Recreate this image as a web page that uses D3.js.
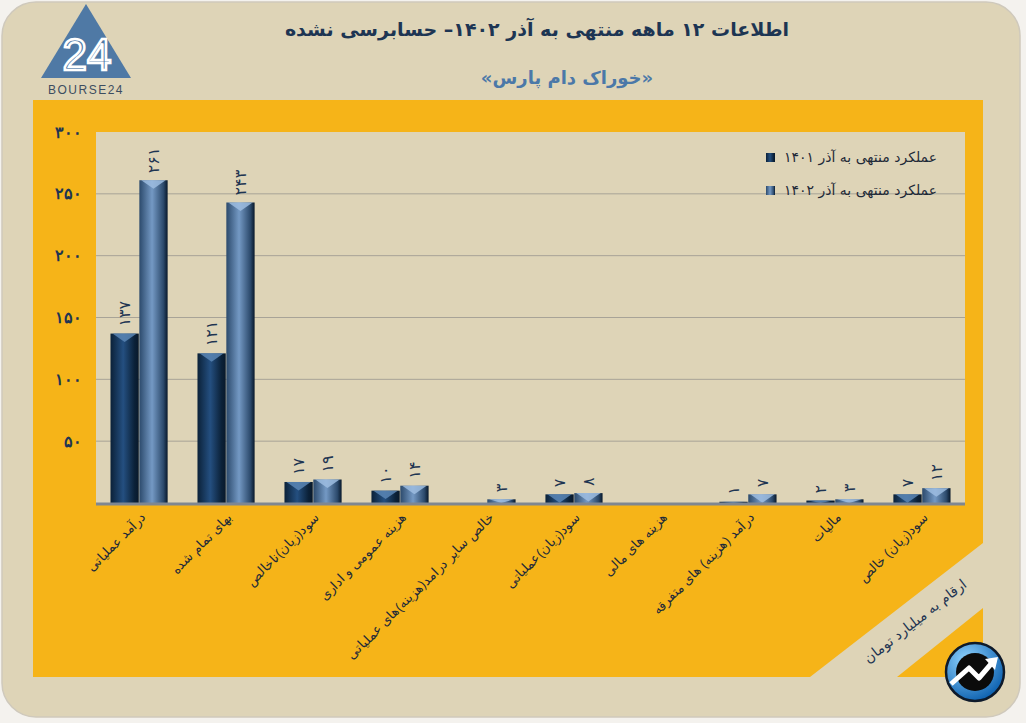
<!DOCTYPE html>
<html>
<head>
<meta charset="utf-8">
<script src="https://cdn.jsdelivr.net/npm/d3@7"></script>
<style>
  body { margin: 0; background: #f4f2ee; }
  svg { display: block; font-family: "DejaVu Sans", sans-serif; }
</style>
</head>
<body>
<svg id="canvas" width="1026" height="723"></svg>
<script>
const categories = [
  "درآمد عملیاتی",
  "بهای تمام شده",
  "سود(زیان)ناخالص",
  "هزینه عمومی و اداری",
  "خالص سایر درامد(هزینه)های عملیاتی",
  "سود(زیان)عملیاتی",
  "هزینه های مالی",
  "درآمد (هزینه) های متفرقه",
  "مالیات",
  "سود(زیان) خالص"
];
const series = ["1401", "1402"];
const seriesNames = ["عملکرد منتهی به آذر ۱۴۰۱", "عملکرد منتهی به آذر ۱۴۰۲"];
const values1401 = [137, 121, 17, 10, null, 7, null, 1, 2, 7];
const values1402 = [261, 243, 19, 14, 3, 8, null, 7, 3, 12];
const yTicks = [50, 100, 150, 200, 250, 300];

const title = "اطلاعات ۱۲ ماهه منتهی به آذر ۱۴۰۲– حسابرسی نشده";
const subtitle = "«خوراک دام پارس»";
const unitNote = "ارقام به میلیارد تومان";

const fa = (n) => String(n).replace(/\d/g, (d) => "۰۱۲۳۴۵۶۷۸۹"[d]);

const data = categories.map((c, i) => ({
  cat: c,
  vals: [
    { key: "1401", v: values1401[i] },
    { key: "1402", v: values1402[i] },
  ],
}));

const svg = d3.select("#canvas");
const W = 1026, H = 723;
const plot = { left: 96, right: 965, top: 132, bottom: 503 };

// gradients
const defs = svg.append("defs");
const grads = [
  { id: "g1401", edge: "#0b2138", mid: "#244f80", bevel: "#5a86b5" },
  { id: "g1402", edge: "#2c4a6c", mid: "#7499c4", bevel: "#9dbde0" },
];
grads.forEach((g) => {
  const lg = defs.append("linearGradient").attr("id", g.id)
    .attr("x1", "0%").attr("x2", "100%").attr("y1", "0%").attr("y2", "0%");
  lg.append("stop").attr("offset", "0%").attr("stop-color", g.edge);
  lg.append("stop").attr("offset", "45%").attr("stop-color", g.mid);
  lg.append("stop").attr("offset", "85%").attr("stop-color", g.edge);
  lg.append("stop").attr("offset", "100%").attr("stop-color", "#08182a");
});
const cg = defs.append("radialGradient").attr("id", "circ").attr("cx", "35%").attr("cy", "30%").attr("r", "75%");
cg.append("stop").attr("offset", "0%").attr("stop-color", "#8fd3ff");
cg.append("stop").attr("offset", "100%").attr("stop-color", "#0b5fae");

// frame
svg.append("rect").attr("x", 2).attr("y", 2).attr("width", W - 8).attr("height", H - 8)
  .attr("rx", 34).attr("fill", "#ded4b7").attr("stroke", "#cfc9bc").attr("stroke-width", 1.5);

// orange panel with cut corner
svg.append("path")
  .attr("d", "M33,100 L983,100 L983,543 L810,677 L33,677 Z")
  .attr("fill", "#f6b418");
svg.append("path")
  .attr("d", "M983,608 L983,677 L897,677 Z")
  .attr("fill", "#f6b418");

// plot background
svg.append("rect")
  .attr("x", plot.left).attr("y", plot.top)
  .attr("width", plot.right - plot.left).attr("height", plot.bottom - plot.top)
  .attr("fill", "#ded4b7");

const x0 = d3.scaleBand().domain(categories)
  .range([plot.left, plot.right]).paddingInner(0.33).paddingOuter(0.16);
const x1 = d3.scaleBand().domain(series).range([0, x0.bandwidth()]).padding(0.02);
const y = d3.scaleLinear().domain([0, 300]).range([plot.bottom, plot.top]);

// grid
svg.append("g")
  .selectAll("line").data(yTicks.filter((t) => t < 300)).enter().append("line")
  .attr("x1", plot.left).attr("x2", plot.right)
  .attr("y1", (d) => y(d)).attr("y2", (d) => y(d))
  .attr("stroke", "#a8a397").attr("stroke-width", 1);

// y axis
const yAxis = d3.axisLeft(y).tickValues(yTicks).tickFormat(fa).tickSize(0).tickPadding(0);
const yg = svg.append("g").attr("transform", `translate(${plot.left - 14},0)`).call(yAxis);
yg.select(".domain").remove();
yg.selectAll("text")
  .attr("fill", "#1e3552").attr("font-size", 16).attr("font-weight", "bold");

// bars
const groups = svg.append("g").selectAll("g").data(data).enter().append("g")
  .attr("transform", (d) => `translate(${x0(d.cat)},0)`);

const bars = groups.selectAll("g.bar")
  .data((d) => d.vals.filter((v) => v.v !== null)).enter().append("g").attr("class", "bar");

bars.append("rect")
  .attr("x", (d) => x1(d.key))
  .attr("y", (d) => y(d.v))
  .attr("width", x1.bandwidth())
  .attr("height", (d) => y(0) - y(d.v))
  .attr("fill", (d) => `url(#g${d.key})`);

bars.append("path")
  .attr("d", (d) => {
    const bx = x1(d.key), bw = x1.bandwidth(), by = y(d.v);
    const h = Math.min(bw * 0.3, y(0) - by);
    return `M${bx + 2},${by} L${bx + bw - 2},${by} L${bx + bw / 2},${by + h} Z`;
  })
  .attr("fill", (d) => (d.key === "1401" ? grads[0].bevel : grads[1].bevel))
  .attr("opacity", 0.85);

bars.append("text")
  .attr("transform", (d) => `translate(${x1(d.key) + x1.bandwidth() / 2},${y(d.v) - 7}) rotate(-90)`)
  .attr("dy", "0.35em")
  .attr("text-anchor", "start")
  .attr("font-size", 16)
  .attr("fill", "#1e3552")
  .text((d) => fa(d.v));

// baseline
svg.append("line")
  .attr("x1", plot.left).attr("x2", plot.right)
  .attr("y1", plot.bottom + 1).attr("y2", plot.bottom + 1)
  .attr("stroke", "#7f8791").attr("stroke-width", 3);

// x labels
const xAxis = d3.axisBottom(x0).tickSize(0).tickPadding(0);
const xg = svg.append("g").attr("transform", `translate(0,${plot.bottom})`).call(xAxis);
xg.select(".domain").remove();
xg.selectAll("text")
  .attr("text-anchor", "end")
  .attr("font-size", 13)
  .attr("fill", "#1e2a38")
  .attr("dy", "0.35em")
  .attr("transform", "translate(4,12) rotate(-45)");

// legend
const legend = svg.append("g").selectAll("g").data(seriesNames).enter().append("g")
  .attr("transform", (d, i) => `translate(766,${157 + i * 33})`);
legend.append("rect").attr("x", 0).attr("y", -4).attr("width", 9).attr("height", 9)
  .attr("fill", (d, i) => `url(#g${series[i]})`);
legend.append("text").attr("x", 171).attr("y", 0).attr("dy", "0.35em")
  .attr("text-anchor", "end").attr("font-size", 14).attr("fill", "#1e2a38")
  .text((d) => d);

// titles
svg.append("text").attr("x", 537).attr("y", 36).attr("text-anchor", "middle")
  .attr("font-size", 19).attr("font-weight", "bold").attr("fill", "#1d3553").text(title);
svg.append("text").attr("x", 567).attr("y", 84).attr("text-anchor", "middle")
  .attr("font-size", 18).attr("font-weight", "bold").attr("fill", "#4b78a8").text(subtitle);

// unit note along the diagonal
svg.append("text")
  .attr("transform", "translate(915,621) rotate(-38)")
  .attr("text-anchor", "middle").attr("dy", "0.35em")
  .attr("font-size", 14).attr("fill", "#1e3552").text(unitNote);

// top-left logo
const logo = svg.append("g");
logo.append("path").attr("d", "M86,4 L131,78 L41,78 Z").attr("fill", "#4f79a5");
logo.append("text").attr("x", 87).attr("y", 70).attr("text-anchor", "middle")
  .attr("font-size", 44).attr("font-family", "Liberation Sans, sans-serif")
  .attr("fill", "none").attr("stroke", "#ffffff").attr("stroke-width", 2.5).text("24");
logo.append("text").attr("x", 86).attr("y", 94).attr("text-anchor", "middle")
  .attr("font-size", 12).attr("letter-spacing", 1.5).attr("fill", "#3c4d60")
  .attr("font-family", "Liberation Sans, sans-serif").text("BOURSE24");

// bottom-right round logo
const rl = svg.append("g").attr("transform", "translate(975,672)");
rl.append("circle").attr("r", 29).attr("fill", "url(#circ)").attr("stroke", "#0e1a2a").attr("stroke-width", 2.5);
rl.append("circle").attr("r", 19).attr("fill", "#0b0b0b");
rl.append("path").attr("d", "M-24,12 L-6,-4 L4,6 L16,-8")
  .attr("fill", "none").attr("stroke", "#ffffff").attr("stroke-width", 5).attr("stroke-linejoin", "round");
rl.append("path").attr("d", "M10,-13 L23,-15 L20,-2 Z").attr("fill", "#ffffff");
</script>
</body>
</html>
